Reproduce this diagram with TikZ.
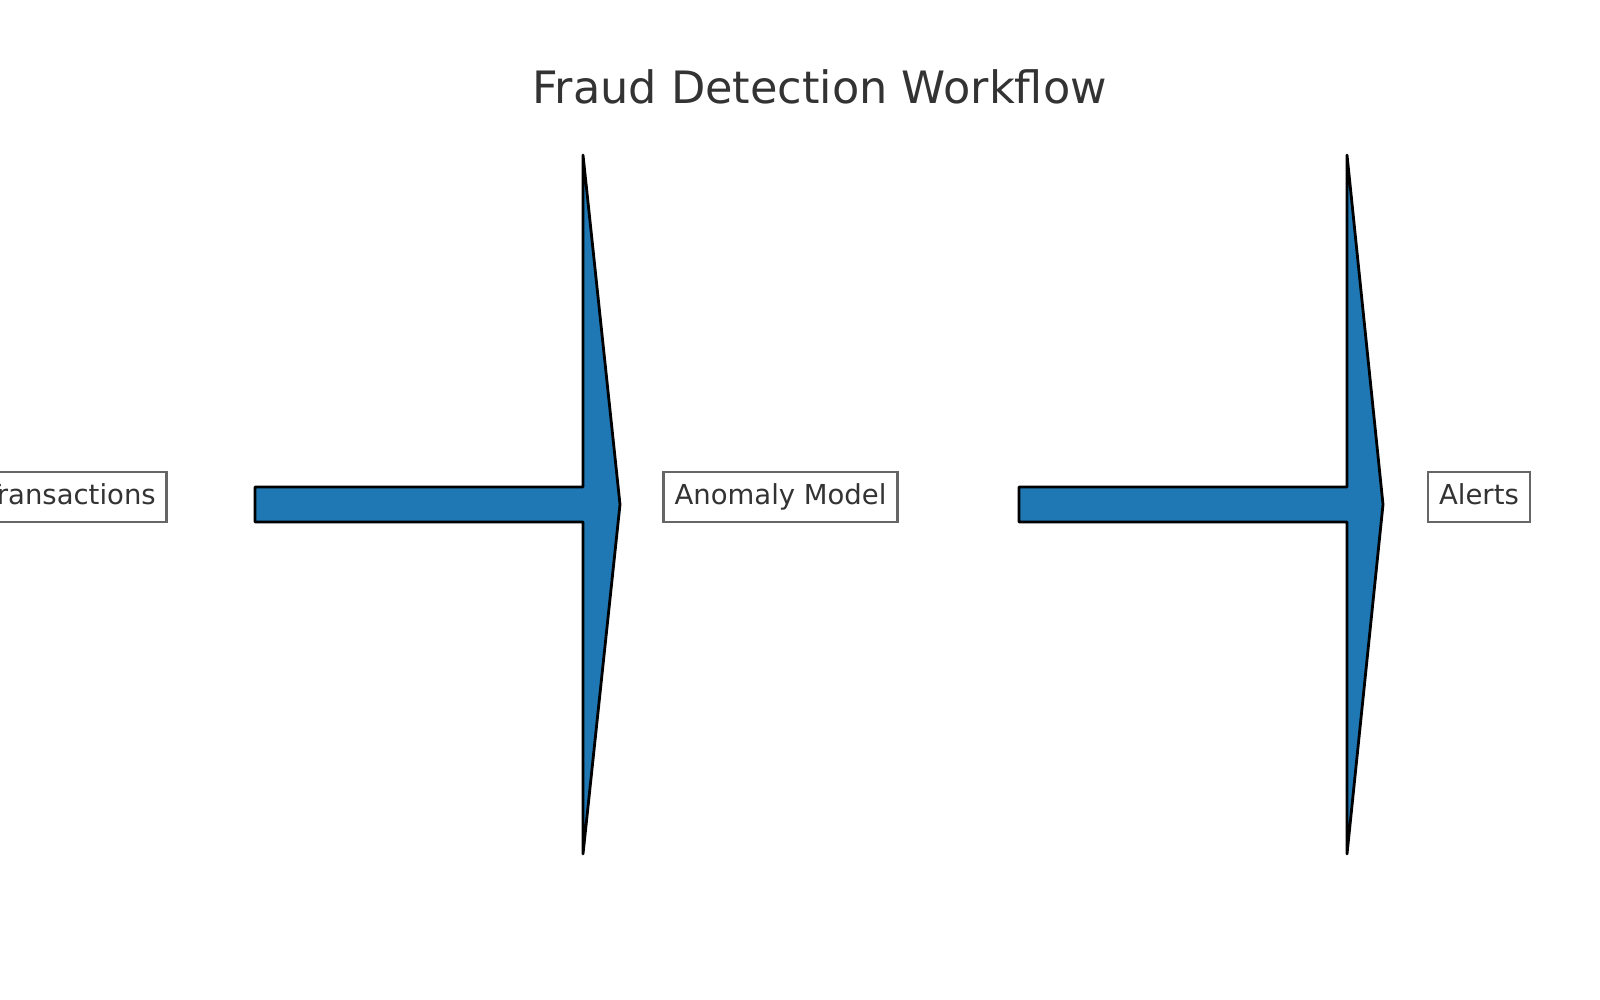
\documentclass[tikz,border=0pt]{standalone}
\usepackage{fontspec}
\setmainfont{DejaVu Sans}
\definecolor{arrowblue}{HTML}{1F77B4}
\definecolor{textgray}{HTML}{333333}
\definecolor{edgegray}{HTML}{666666}
\begin{document}
\begin{tikzpicture}[x=1pt,y=-1pt,
  labelbox/.style={draw=edgegray, line width=2.6pt, fill=white, text=textgray,
    font=\fontsize{27.5}{32}\selectfont, inner xsep=11pt, inner ysep=0pt,
    minimum height=50pt, text height=20pt, text depth=6pt},
  flowarrow/.style={fill=arrowblue, draw=black, line width=2.8pt, line join=round},
  titlestyle/.style={text=textgray, font=\fontsize{44.6}{54}\selectfont, inner sep=0pt}]
\useasboundingbox (0,0) rectangle (1600,1000);
\node[titlestyle, anchor=base] (title) at (819.5,104) {Fraud Detection Workflow};
% arrows
\draw[flowarrow] (255,487) coordinate (a1s) -- (583,487) -- (583,155) -- (620,504.5) coordinate (a1t)
  -- (583,854) -- (583,522) -- (255,522) -- cycle;
\draw[flowarrow] (1019,487) coordinate (a2s) -- (1347,487) -- (1347,155) -- (1383,504.5) coordinate (a2t)
  -- (1347,854) -- (1347,522) -- (1019,522) -- cycle;
% labels
\node[labelbox, anchor=east] (trans) at (168,497) {Transactions};
\node[labelbox] (model) at (780.5,497) {Anomaly Model};
\node[labelbox] (alerts) at (1479,497) {Alerts};
\end{tikzpicture}
\end{document}
